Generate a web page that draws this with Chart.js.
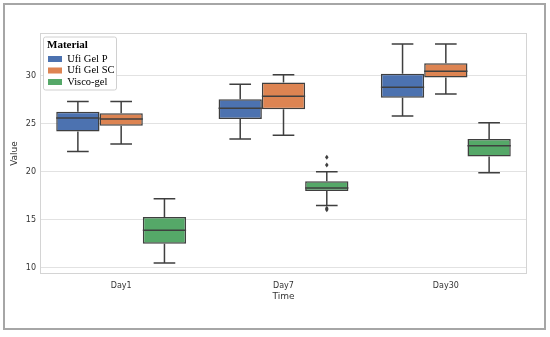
<!DOCTYPE html>
<html>
<head>
<meta charset="utf-8">
<script src="https://cdn.jsdelivr.net/npm/chart.js@4.4.1/dist/chart.umd.min.js"></script>
<style>
    html, body { margin: 0; padding: 0; background: #fff; }
    #wrap { position: relative; width: 550px; height: 337px; }
    #frame { position: absolute; left: 3px; top: 3px; width: 539px; height: 323px; border: 2px solid #a6a6a6; }
    canvas { position: absolute; left: 0; top: 0; }
</style>
</head>
<body>
<div id="wrap">
    <div id="frame"></div>
    <canvas id="boxChart" width="550" height="337"></canvas>
</div>
<script>
const categories = ['Day1', 'Day7', 'Day30'];
const seriesNames = ['Ufi Gel P', 'Ufi Gel SC', 'Visco-gel'];
const seriesColors = ['#4c72b0', '#dd8452', '#55a868'];
const yTicks = [10, 15, 20, 25, 30];

// five-number summaries per day
const gelPMin = [22.1, 23.4, 25.8];
const gelPQ1 = [24.2, 25.5, 27.7];
const gelPMedian = [25.6, 26.6, 28.8];
const gelPQ3 = [26.25, 27.55, 30.2];
const gelPMax = [27.3, 29.1, 33.3];

const gelSCMin = [22.9, 23.8, 28.1];
const gelSCQ1 = [24.8, 26.5, 29.8];
const gelSCMedian = [25.5, 27.85, 30.45];
const gelSCQ3 = [26.1, 29.3, 31.3];
const gelSCMax = [27.3, 30.1, 33.3];

const viscoMin = [10.5, 16.5, 19.9];
const viscoQ1 = [12.5, 18.0, 21.6];
const viscoMedian = [13.9, 18.3, 22.7];
const viscoQ3 = [15.3, 19.0, 23.4];
const viscoMax = [17.2, 20.0, 25.1];

// outlier points (fliers)
const gelPOutliers = [[], [], []];
const gelSCOutliers = [[], [], []];
const viscoOutliers = [[], [21.5, 20.7, 16.2, 16.05], []];

const lineColor = '#3f3f3f';

function makeDataset(i, q1, q3, min, median, max, outliers) {
    return {
        label: seriesNames[i],
        data: q1.map((v, k) => [v, q3[k]]),
        backgroundColor: seriesColors[i],
        borderColor: lineColor,
        borderWidth: 1.5,
        borderSkipped: false,
        whiskerMin: min,
        whiskerMax: max,
        medians: median,
        fliers: outliers
    };
}

const datasets = [
    makeDataset(0, gelPQ1, gelPQ3, gelPMin, gelPMedian, gelPMax, gelPOutliers),
    makeDataset(1, gelSCQ1, gelSCQ3, gelSCMin, gelSCMedian, gelSCMax, gelSCOutliers),
    makeDataset(2, viscoQ1, viscoQ3, viscoMin, viscoMedian, viscoMax, viscoOutliers)
];

const boxPlotParts = {
    id: 'boxPlotParts',
    afterLayout(chart) {
        const area = chart.chartArea;
        const legend = chart.legend;
        const w = legend.width;
        legend.left = area.left + 7;
        legend.right = legend.left + w;
        legend.top = area.top + 6.5;
        legend.bottom = area.bottom;
    },
    beforeDatasetsDraw(chart) {
        const ctx = chart.ctx;
        const area = chart.chartArea;
        ctx.save();
        ctx.strokeStyle = '#d4d4d4';
        ctx.lineWidth = 1;
        ctx.strokeRect(area.left + 0.5, area.top + 0.5, area.right - area.left - 1, area.bottom - area.top - 1);

        // legend frame, then legend on top of it
        const lg = chart.legend;
        ctx.fillStyle = 'rgba(255,255,255,0.95)';
        ctx.strokeStyle = '#d0d0d0';
        ctx.beginPath();
        ctx.roundRect(lg.left - 3.5, lg.top - 2.5, 73, 53, 2);
        ctx.fill();
        ctx.stroke();
        ctx.restore();
        lg.draw();
    },
    afterDatasetsDraw(chart) {
        const ctx = chart.ctx;
        const yScale = chart.scales.y;
        ctx.save();
        ctx.strokeStyle = lineColor;
        ctx.fillStyle = lineColor;
        ctx.lineWidth = 1.5;
        chart.data.datasets.forEach((ds, di) => {
            const meta = chart.getDatasetMeta(di);
            meta.data.forEach((bar, i) => {
                const half = bar.width / 2;
                const x = bar.x;
                const yQ1 = yScale.getPixelForValue(ds.data[i][0]);
                const yQ3 = yScale.getPixelForValue(ds.data[i][1]);
                const yMin = yScale.getPixelForValue(ds.whiskerMin[i]);
                const yMax = yScale.getPixelForValue(ds.whiskerMax[i]);
                const yMed = yScale.getPixelForValue(ds.medians[i]);
                ctx.beginPath();
                ctx.moveTo(x - half, yMed);
                ctx.lineTo(x + half, yMed);
                ctx.moveTo(x, yQ3);
                ctx.lineTo(x, yMax);
                ctx.moveTo(x - half / 2, yMax);
                ctx.lineTo(x + half / 2, yMax);
                ctx.moveTo(x, yQ1);
                ctx.lineTo(x, yMin);
                ctx.moveTo(x - half / 2, yMin);
                ctx.lineTo(x + half / 2, yMin);
                ctx.stroke();
                ds.fliers[i].forEach(v => {
                    const py = yScale.getPixelForValue(v);
                    ctx.beginPath();
                    ctx.moveTo(x, py - 2.5);
                    ctx.lineTo(x + 1.8, py);
                    ctx.lineTo(x, py + 2.5);
                    ctx.lineTo(x - 1.8, py);
                    ctx.closePath();
                    ctx.fill();
                });
            });
        });
        ctx.restore();
    }
};

new Chart(document.getElementById('boxChart'), {
    type: 'bar',
    data: {
        labels: categories,
        datasets: datasets
    },
    options: {
        responsive: false,
        animation: false,
        layout: { padding: { left: 4, top: 33, right: 23, bottom: 30 } },
        datasets: {
            bar: { categoryPercentage: 0.8, barPercentage: 1.0 }
        },
        plugins: {
            tooltip: { enabled: false },
            legend: {
                position: 'chartArea',
                align: 'start',
                title: {
                    display: true,
                    text: 'Material',
                    position: 'start',
                    color: '#000',
                    padding: { top: 0, bottom: 0 },
                    font: { family: 'Liberation Serif', size: 11, weight: 'bold' }
                },
                labels: {
                    boxWidth: 14,
                    boxHeight: 6,
                    padding: 1,
                    color: '#000',
                    font: { family: 'Liberation Serif', size: 10.5 },
                    generateLabels(chart) {
                        return chart.data.datasets.map((ds, i) => ({
                            text: ds.label,
                            fillStyle: ds.backgroundColor,
                            strokeStyle: ds.backgroundColor,
                            lineWidth: 0,
                            datasetIndex: i
                        }));
                    }
                }
            }
        },
        scales: {
            x: {
                grid: { display: false, drawTicks: false },
                border: { display: false },
                ticks: { padding: 7, color: '#333', font: { family: 'DejaVu Sans', size: 8 } },
                title: { display: true, text: 'Time', color: '#333', padding: { top: 0, bottom: 5 }, font: { family: 'DejaVu Sans', size: 9 } },
                afterFit(scale) { scale.height = 33; }
            },
            y: {
                min: 9.36,
                max: 34.44,
                grid: { color: '#e2e2e2', lineWidth: 1, drawTicks: false },
                border: { display: false },
                ticks: { padding: 4, color: '#333', font: { family: 'DejaVu Sans', size: 8 } },
                afterBuildTicks(scale) { scale.ticks = yTicks.map(v => ({ value: v })); },
                title: { display: true, text: 'Value', color: '#333', padding: { top: 5, bottom: 0 }, font: { family: 'DejaVu Sans', size: 9 } },
                afterFit(scale) { scale.width = 36; }
            }
        }
    },
    plugins: [boxPlotParts]
});
</script>
</body>
</html>
